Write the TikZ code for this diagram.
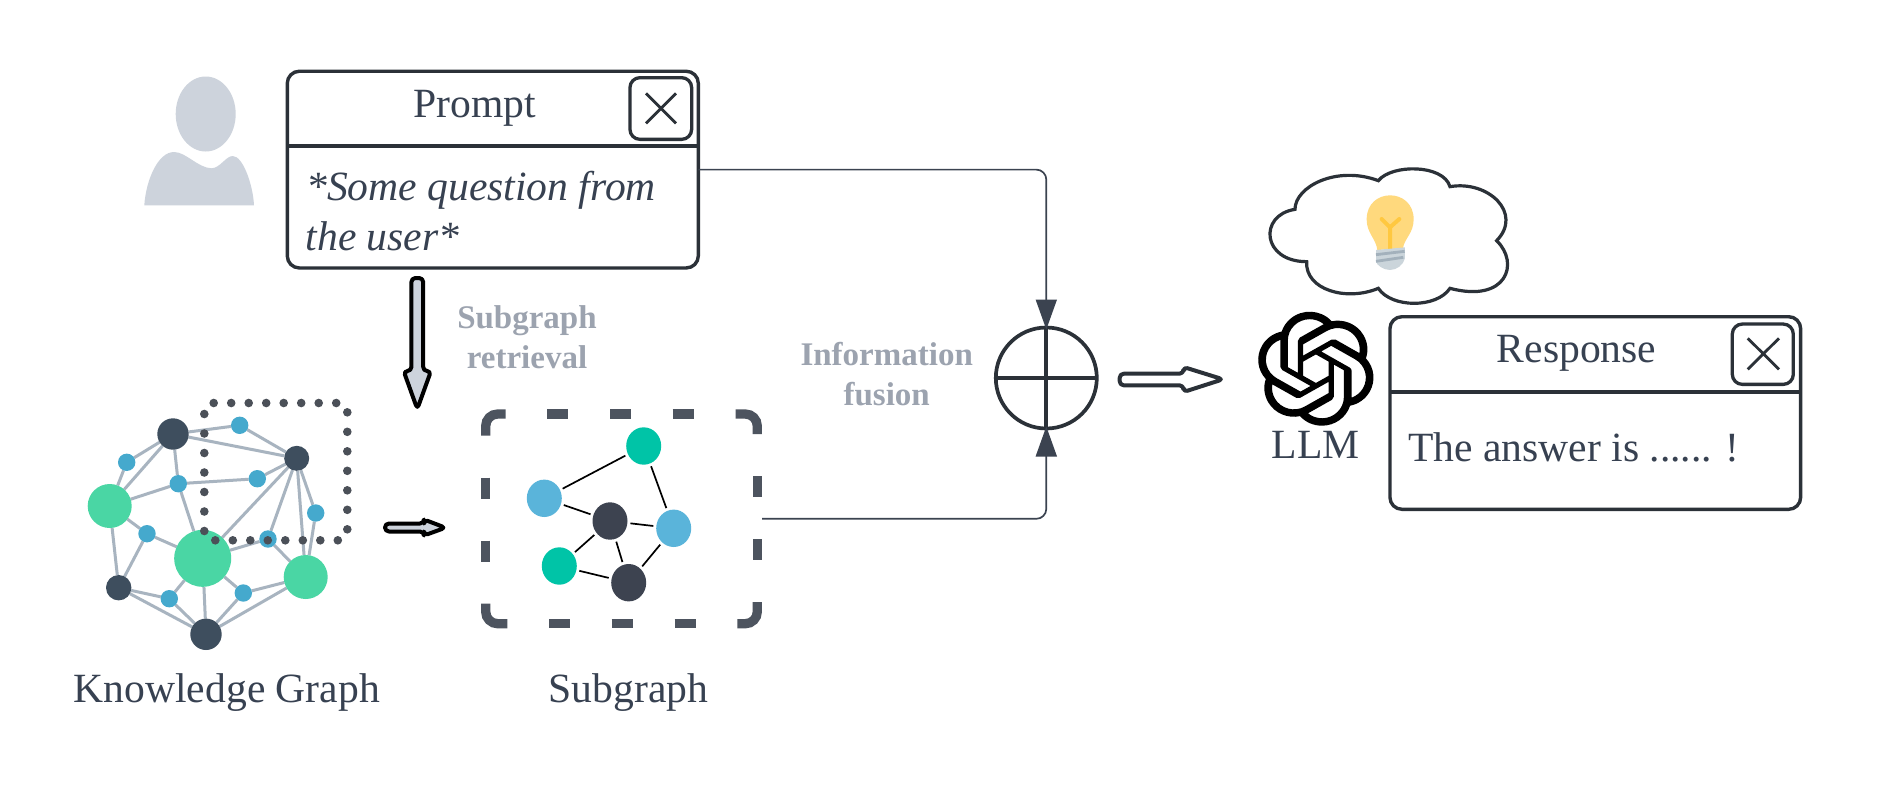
\documentclass[tikz,border=0pt]{standalone}
\usepackage{fontspec}
\setmainfont{Liberation Serif}
\usetikzlibrary{shapes.geometric,arrows.meta,backgrounds,svg.path}
\definecolor{ink}{HTML}{2B3138}
\definecolor{txt}{HTML}{374151}
\definecolor{lbl}{HTML}{9CA3AF}
\definecolor{kgdark}{HTML}{3E4E5E}
\definecolor{kggreen}{HTML}{4AD6A4}
\definecolor{kgblue}{HTML}{45A9CD}
\definecolor{kgedge}{HTML}{A8B4C0}
\definecolor{dotc}{HTML}{4B5058}
\definecolor{dashc}{HTML}{4D545F}
\definecolor{sgreen}{HTML}{00C4A7}
\definecolor{sblue}{HTML}{5AB4DA}
\definecolor{sdark}{HTML}{3D4350}
\definecolor{person}{HTML}{CDD3DC}
\definecolor{conn}{HTML}{3B4350}
\definecolor{bulbglass}{HTML}{FFD97D}
\definecolor{bulbwire}{HTML}{FFC840}
\definecolor{bulbbase}{HTML}{CBD5DB}
\definecolor{bulbstripe}{HTML}{A3B1BC}
\tikzset{
  kgd/.style={circle,fill=kgdark,inner sep=0,outer sep=0,minimum size=#1},
  kgg/.style={circle,fill=kggreen,inner sep=0,outer sep=0,minimum size=#1},
  kgb/.style={circle,fill=kgblue,inner sep=0,outer sep=0,minimum size=17.4pt},
  kgline/.style={draw=kgedge,line width=3pt},
  sgn/.style={ellipse,fill=#1,inner sep=0,minimum width=35pt,minimum height=37.4pt,outer sep=3pt},
  sgline/.style={draw=black,line width=1.7pt},
  windowbox/.style={draw=ink,line width=3.4pt,rounded corners=12pt,inner sep=0,outer sep=0},
  closebox/.style={draw=ink,line width=3.3pt,rounded corners=10pt,inner sep=0,outer sep=0},
  xmark/.style={draw=ink,line width=2.8pt},
  bigtxt/.style={text=txt,font=\fontsize{41.6}{49}\selectfont,inner sep=0},
  graylbl/.style={text=lbl,font=\fontsize{33}{40}\bfseries\selectfont,inner sep=0,align=center},
  dashpiece/.style={draw=dashc,line width=9.3pt},
  flowline/.style={draw=conn,line width=1.7pt,rounded corners=10pt,-{Triangle[width=21pt,length=30pt,fill=conn]}},
  blockarrow/.style={line width=4pt,line join=round,rounded corners=4pt},
}
\begin{document}
\begin{tikzpicture}[x=1pt,y=-1pt]
\useasboundingbox (0,0) rectangle (1877,788);
% person
\fill[person] (205.7,114) ellipse [x radius=30pt,y radius=37.5pt];
\fill[person] (144.3,205.3) .. controls (146,180) and (158,152) .. (174,152) .. controls (186,152) and (198,168) .. (211.7,168.3) .. controls (220,168) and (226,156) .. (232.7,156) .. controls (243,156) and (253,185) .. (254,205.3) -- cycle;
% prompt window
\node[windowbox,minimum width=411pt,minimum height=196.7pt] (prompt) at (492.8,169.6) {};
\coordinate (pdiv) at (0,146);
\draw[line width=3.4pt,draw=ink] (prompt.west |- pdiv) -- (prompt.east |- pdiv);
\node[closebox,minimum width=61.7pt,minimum height=61.7pt] (pclose) at (660.8,108.5) {};
\draw[xmark] (646,93.3) -- (676,123.3) (676,93.3) -- (646,123.3);
\node[bigtxt,anchor=base] (ptitle) at (474.5,117) {Prompt};
\node[bigtxt,anchor=base west] (pq1) at (306,200) {\itshape *Some question from};
\node[bigtxt,anchor=base west] (pq2) at (305.5,250) {\itshape the user*};
% knowledge graph nodes
\node[kgd=31.4pt] (d1) at (173,434) {};
\node[kgd=25pt] (d2) at (296.7,458.3) {};
\node[kgd=25.4pt] (d3) at (118.7,587.7) {};
\node[kgd=31.4pt] (d4) at (206,634.3) {};
\node[kgg=44pt] (g1) at (109.7,506) {};
\node[kgg=57pt] (g2) at (202.7,558.3) {};
\node[kgg=44pt] (g3) at (305.7,577) {};
\node[kgb] (b1) at (126.7,462.3) {};
\node[kgb] (b2) at (239.7,425.3) {};
\node[kgb] (b3) at (178.3,483.7) {};
\node[kgb] (b4) at (257.3,478.7) {};
\node[kgb] (b5) at (315.7,513) {};
\node[kgb] (b6) at (147,533.7) {};
\node[kgb] (b7) at (268,539) {};
\node[kgb] (b8) at (169.3,598.7) {};
\node[kgb] (b9) at (243.3,593) {};
\begin{scope}[on background layer]
\fill[white] (0,0) rectangle (1877,788);
\foreach \a/\b in {d1/b2,d1/d2,b2/d2,d1/b1,b1/g1,d1/g1,d1/b3,g1/b3,b3/b4,b4/d2,b3/g2,d2/g2,d2/b7,d2/g3,d2/b5,b5/g3,g1/b6,b6/g2,b6/d3,g1/d3,g2/b7,b7/g3,g2/b8,g2/d4,g2/b9,d3/b8,d3/d4,b8/d4,b9/d4,b9/g3,g3/d4}
  \draw[kgline] (\a) -- (\b);
\end{scope}
% dotted selection
\foreach \i in {0,...,7} {
  \fill[dotc] (213.7+17.5*\i,403) circle[radius=4.3pt];
  \fill[dotc] (215.3+17.5*\i,540.3) circle[radius=4.3pt];
}
\foreach \i in {0,...,6} {
  \fill[dotc] (204.3,414+19.5*\i) circle[radius=4.3pt];
  \fill[dotc] (347.3,412.3+19.5*\i) circle[radius=4.3pt];
}
\node[bigtxt,anchor=base] (kglabel) at (226.8,702.5) {Knowledge Graph};
% small block arrow
\draw[blockarrow,draw=black,fill=person] (385,523.5) -- (424,523.5) -- (424,519.5) -- (445.5,527.7) -- (424,535.5) -- (424,531.5) -- (385,531.5) -- cycle;
% thick down arrow
\draw[blockarrow,draw=black,fill=person] (411.4,278) -- (423.2,278) -- (423.2,371) -- (431,371) -- (417.3,409) -- (403.6,371) -- (411.4,371) -- cycle;
% subgraph frame
\node[inner sep=0,outer sep=0,minimum width=281pt,minimum height=209.7pt] (sub) at (621.5,518.8) {};
\begin{scope}[dashpiece]
\draw (485.7,435.7) -- (485.7,426) arc[start angle=180,end angle=90,radius=12pt] -- (505.7,414);
\draw (735.7,414) -- (745.3,414) arc[start angle=90,end angle=0,radius=12pt] -- (757.3,434);
\draw (485.7,603.7) -- (485.7,611.7) arc[start angle=180,end angle=270,radius=12pt] -- (507.3,623.7);
\draw (737.3,623.7) -- (745.3,623.7) arc[start angle=270,end angle=360,radius=12pt] -- (757.3,602);
\foreach \p in {547.3,610,672.7} \draw (\p,414) -- +(21,0);
\foreach \p in {549,611.7,674.5} \draw (\p,623.7) -- +(21,0);
\foreach \p in {477.7,540.7} \draw (485.7,\p) -- +(0,21);
\foreach \p in {476,539} \draw (757.3,\p) -- +(0,21);
\end{scope}
\node[sgn=sgreen] (s1) at (643.7,446) {};
\node[sgn=sblue] (s2) at (544.3,498.3) {};
\node[sgn=sdark] (s3) at (610,521) {};
\node[sgn=sblue] (s4) at (673.7,528.3) {};
\node[sgn=sgreen] (s5) at (559.3,566) {};
\node[sgn=sdark] (s6) at (628.7,582.7) {};
\foreach \a/\b in {s2/s1,s1/s4,s2/s3,s3/s4,s3/s5,s3/s6,s5/s6,s4/s6}
  \draw[sgline] (\a) -- (\b);
\node[bigtxt,anchor=base] (sublabel) at (628.5,702.5) {Subgraph};
% gray labels
\node[graylbl,anchor=base] (l1a) at (527,328) {Subgraph};
\node[graylbl,anchor=base] (l1b) at (527,368.3) {retrieval};
\node[graylbl,anchor=base] (l2a) at (886.7,365) {Information};
\node[graylbl,anchor=base] (l2b) at (886.7,405.5) {fusion};
% fusion
\node[circle,draw=ink,line width=3.7pt,inner sep=0,outer sep=0,minimum size=101pt] (fuse) at (1046.3,378) {};
\draw[draw=ink,line width=3.7pt] (fuse.north) -- (fuse.south) (fuse.west) -- (fuse.east);
\draw[flowline] (prompt.east) -| ([yshift=-2pt]fuse.north);
\draw[flowline] (sub.east) -| ([yshift=2pt]fuse.south);
% output arrow
\draw[blockarrow,draw=ink,fill=white] (1119.7,373.7) -- (1183.5,373.7) -- (1183.5,367) -- (1223,379.3) -- (1183.5,392) -- (1183.5,385.3) -- (1119.7,385.3) -- cycle;
% cloud with bulb
\begin{scope}[shift={(1240,150)},xscale=0.3333,yscale=0.3333]
\draw[draw=ink,line width=3.2pt,line join=miter]
 (165,178) .. controls (165,110) and (290,45) .. (415,92)
 .. controls (455,42) and (610,42) .. (630,110)
 .. controls (745,90) and (850,190) .. (770,272)
 .. controls (840,340) and (800,460) .. (630,415)
 .. controls (590,475) and (455,475) .. (415,415)
 .. controls (320,455) and (195,420) .. (200,335)
 .. controls (65,335) and (55,195) .. (165,178) -- cycle;
\fill[fill=bulbglass] (412,300) .. controls (408,265) and (380,250) .. (380,208) .. controls (380,112) and (521,112) .. (521,208) .. controls (521,250) and (493,265) .. (489,295) -- cycle;
\draw[draw=bulbwire,line width=4pt,line cap=round,line join=round] (450,297) -- (450,232) (425,207) -- (450,232) -- (478,207);
\fill[fill=bulbbase] (408,300) -- (495,292) -- (495,325) .. controls (490,345) and (470,360) .. (450,360) .. controls (430,360) and (410,345) .. (408,335) -- cycle;
\draw[draw=bulbstripe,line width=2.8pt] (408,314) -- (494,304) (408,334) -- (490,322);
\end{scope}
% logo
\begin{scope}[shift={(1257.4,311.7)},xscale=4.87,yscale=-4.75]
\fill[black] svg {M 22.2819 9.8211 a 5.9847 5.9847 0 0 0 -0.5157 -4.9108 a 6.0462 6.0462 0 0 0 -6.5098 -2.9 A 6.0651 6.0651 0 0 0 4.9807 4.1818 a 5.9847 5.9847 0 0 0 -3.9977 2.9 a 6.0462 6.0462 0 0 0 0.7427 7.0966 a 5.98 5.98 0 0 0 0.511 4.9107 a 6.051 6.051 0 0 0 6.5146 2.9001 A 5.9847 5.9847 0 0 0 13.2599 24 a 6.0557 6.0557 0 0 0 5.7718 -4.2058 a 5.9894 5.9894 0 0 0 3.9977 -2.9001 a 6.0557 6.0557 0 0 0 -0.7475 -7.0729 z
M 13.2599 22.4292 a 4.4755 4.4755 0 0 1 -2.8764 -1.0408 l 0.1419 -0.0804 l 4.7783 -2.7582 a 0.7948 0.7948 0 0 0 0.3927 -0.6813 v -6.7369 l 2.02 1.1686 l 0.038 0.052 v 5.5826 a 4.504 4.504 0 0 1 -4.4945 4.4944 z
M 3.5992 18.3038 a 4.4708 4.4708 0 0 1 -0.5346 -3.0137 l 0.142 0.0852 l 4.783 2.7582 a 0.7712 0.7712 0 0 0 0.7806 0 l 5.8428 -3.3685 v 2.3324 l -0.0332 0.0615 L 9.74 19.9502 a 4.4992 4.4992 0 0 1 -6.1408 -1.6464 z
M 2.3408 7.8956 a 4.485 4.485 0 0 1 2.3655 -1.9728 V 11.6 a 0.7664 0.7664 0 0 0 0.3879 0.6765 l 5.8144 3.3543 l -2.0201 1.1685 l -0.071 0 l -4.8303 -2.7865 A 4.504 4.504 0 0 1 2.3408 7.872 z
M 18.9371 11.7514 L 13.1038 8.364 L 15.1192 7.2 l 0.071 0 l 4.8303 2.7913 a 4.4944 4.4944 0 0 1 -0.6765 8.1042 v -5.6772 a 0.79 0.79 0 0 0 -0.407 -0.667 z
M 20.9478 8.7283 l -0.142 -0.0852 l -4.7735 -2.7818 a 0.7759 0.7759 0 0 0 -0.7854 0 L 9.409 9.2297 V 6.8974 l 0.0284 -0.0615 l 4.8303 -2.7866 a 4.4992 4.4992 0 0 1 6.6802 4.66 z
M 8.3065 12.863 l -2.02 -1.1638 l -0.038 -0.0567 V 6.0742 a 4.4992 4.4992 0 0 1 7.3757 -3.4537 l -0.142 0.0805 L 8.704 5.459 a 0.7948 0.7948 0 0 0 -0.3927 0.6813 z
M 9.4041 10.4976 l 2.602 -1.4998 l 2.6069 1.4998 v 2.9994 l -2.5974 1.4997 l -2.6067 -1.4997 z};
\end{scope}
\node[bigtxt,anchor=base] (llm) at (1315.5,458.3) {LLM};
% response window
\node[windowbox,minimum width=410.7pt,minimum height=192.6pt] (resp) at (1595.3,413) {};
\coordinate (rdiv) at (0,392);
\draw[line width=3.4pt,draw=ink] (resp.west |- rdiv) -- (resp.east |- rdiv);
\node[closebox,minimum width=61pt,minimum height=60.3pt] (rclose) at (1762.8,354.2) {};
\draw[xmark] (1747.7,338.3) -- (1779,369.3) (1779,338.3) -- (1747.7,369.3);
\node[bigtxt,anchor=base] (rtitle) at (1576.7,362.7) {Response};
\node[bigtxt,anchor=base west] (rtext) at (1408,461) {The answer is ...... !};
\end{tikzpicture}
\end{document}
